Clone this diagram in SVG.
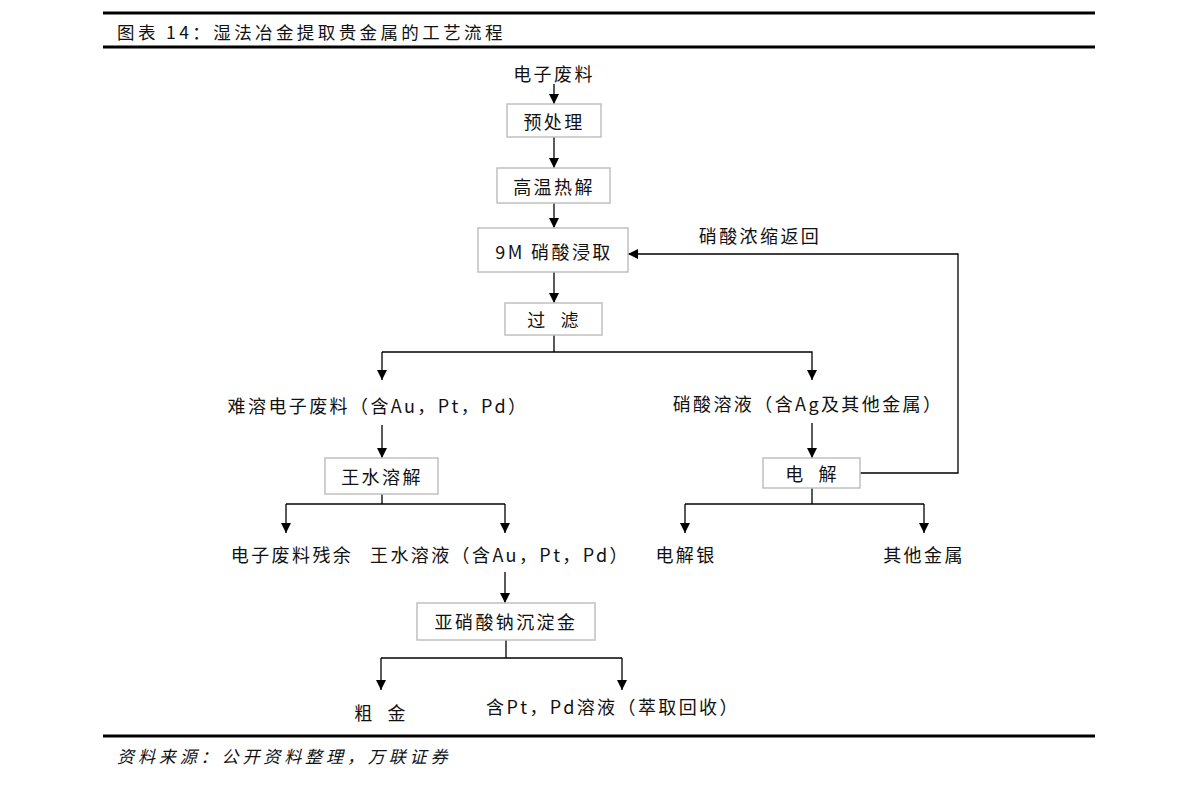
<svg xmlns="http://www.w3.org/2000/svg" width="1191" height="785" viewBox="0 0 1191 785">
<style>
.t{font-family:"Noto Sans CJK SC","Liberation Sans",sans-serif;font-size:18px;fill:#111;letter-spacing:2.4px;text-anchor:middle;dominant-baseline:central}
.box{fill:#fff;stroke:#c0c0c0;stroke-width:1.5}
.c{fill:none;stroke:#000;stroke-width:1.3}
.rule{stroke:#000;stroke-width:3}
</style>
<defs>
<marker id="a" viewBox="0 0 10 10" refX="10" refY="5" markerWidth="10" markerHeight="10" markerUnits="userSpaceOnUse" orient="auto">
<path d="M0,0 L10,5 L0,10 z" fill="#000"/>
</marker>
</defs>
<rect width="1191" height="785" fill="#fff"/>
<line class="rule" x1="103" y1="13" x2="1095" y2="13"/>
<line class="rule" x1="103" y1="47" x2="1095" y2="47"/>
<line class="rule" x1="103" y1="736" x2="1095" y2="736"/>
<text x="117" y="31" style="font-family:'Noto Sans CJK SC','Liberation Sans',sans-serif;font-size:17.5px;fill:#111;letter-spacing:3.4px;dominant-baseline:central">图表 14：湿法冶金提取贵金属的工艺流程</text>
<text x="117" y="755" style="font-family:'Noto Sans CJK SC','Liberation Sans',sans-serif;font-size:17px;font-style:italic;fill:#111;letter-spacing:3.9px;dominant-baseline:central">资料来源：公开资料整理，万联证券</text>

<g id="connectors">
<line class="c" x1="554" y1="84" x2="554" y2="104" marker-end="url(#a)"/>
<line class="c" x1="554" y1="137" x2="554" y2="168" marker-end="url(#a)"/>
<line class="c" x1="554" y1="203" x2="554" y2="228" marker-end="url(#a)"/>
<line class="c" x1="554" y1="272" x2="554" y2="303" marker-end="url(#a)"/>
<polyline class="c" points="554,335 554,352"/>
<polyline class="c" points="382,352 812,352 812,380" marker-end="url(#a)"/>
<line class="c" x1="382" y1="352" x2="382" y2="380" marker-end="url(#a)"/>
<line class="c" x1="382" y1="425" x2="382" y2="458" marker-end="url(#a)"/>
<polyline class="c" points="382,494 382,504"/>
<line class="c" x1="286" y1="504" x2="505" y2="504"/>
<line class="c" x1="286" y1="504" x2="286" y2="533" marker-end="url(#a)"/>
<line class="c" x1="505" y1="504" x2="505" y2="533" marker-end="url(#a)"/>
<line class="c" x1="505" y1="572" x2="505" y2="603" marker-end="url(#a)"/>
<polyline class="c" points="506,640 506,658"/>
<line class="c" x1="381" y1="658" x2="622" y2="658"/>
<line class="c" x1="381" y1="658" x2="381" y2="690" marker-end="url(#a)"/>
<line class="c" x1="622" y1="658" x2="622" y2="690" marker-end="url(#a)"/>
<line class="c" x1="812" y1="423" x2="812" y2="458" marker-end="url(#a)"/>
<polyline class="c" points="860,473 958,473 958,254 628,254" marker-end="url(#a)"/>
<polyline class="c" points="812,488 812,504"/>
<line class="c" x1="685" y1="504" x2="924" y2="504"/>
<line class="c" x1="685" y1="504" x2="685" y2="533" marker-end="url(#a)"/>
<line class="c" x1="924" y1="504" x2="924" y2="533" marker-end="url(#a)"/>
</g>

<g id="n-ewaste"><text class="t" x="554" y="73">电子废料</text></g>
<g id="n-pretreat"><rect class="box" x="507" y="104" width="94" height="33"/><text class="t" x="554" y="121">预处理</text></g>
<g id="n-pyrolysis"><rect class="box" x="497" y="168" width="113" height="35"/><text class="t" x="554" y="186">高温热解</text></g>
<g id="n-leach"><rect class="box" x="478" y="228" width="150" height="44"/><text class="t" x="554" y="251">9M 硝酸浸取</text></g>
<g id="n-filter"><rect class="box" x="505" y="303" width="97" height="32"/><text class="t" x="554" y="319" xml:space="preserve">过  滤</text></g>
<g id="n-residue"><text class="t" x="378" y="405">难溶电子废料（含Au，Pt，Pd）</text></g>
<g id="n-nitric"><text class="t" x="808" y="403">硝酸溶液（含Ag及其他金属）</text></g>
<g id="n-recycle"><text class="t" x="760" y="235">硝酸浓缩返回</text></g>
<g id="n-aquaregia"><rect class="box" x="325" y="458" width="113" height="36"/><text class="t" x="382" y="476">王水溶解</text></g>
<g id="n-electro"><rect class="box" x="763" y="458" width="97" height="30"/><text class="t" x="812" y="473" xml:space="preserve">电  解</text></g>
<g id="n-rest"><text class="t" x="292" y="554">电子废料残余</text></g>
<g id="n-solution"><text class="t" x="500" y="554">王水溶液（含Au，Pt，Pd）</text></g>
<g id="n-silver"><text class="t" x="686" y="554">电解银</text></g>
<g id="n-othermetal"><text class="t" x="924" y="554">其他金属</text></g>
<g id="n-precip"><rect class="box" x="417" y="603" width="178" height="37"/><text class="t" x="506" y="621">亚硝酸钠沉淀金</text></g>
<g id="n-gold"><text class="t" x="381" y="712" xml:space="preserve">粗  金</text></g>
<g id="n-ptpd"><text class="t" x="613" y="706">含Pt，Pd溶液（萃取回收）</text></g>
</svg>
